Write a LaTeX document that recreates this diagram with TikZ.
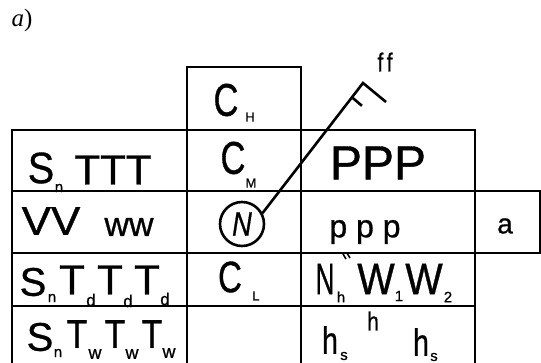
\documentclass[tikz,border=0pt]{standalone}
\usepackage{fontspec}
\newfontfamily\hand[FakeBold=0.8, Ligatures=NoCommon]{Liberation Sans}
\newfontfamily\capfont{Liberation Serif}
\newcommand\fsz[1]{\fontsize{#1}{#1}\selectfont}
\tikzset{
  rule/.style={line width=2.6pt, line join=miter},
  glyph/.style={inner sep=0pt, outer sep=0pt, font=\hand},
  subs/.style={inner sep=0pt, outer sep=0pt, font=\hand\fsz{15}},
}
\begin{document}
\begin{tikzpicture}[x=1pt,y=-1pt]
\useasboundingbox (0,0) rectangle (541,363);

% caption
\node[inner sep=0pt, font=\capfont\fsz{25}] (cap) at (22,20) {\itshape a\upshape)};

% frame of the station model
\draw[rule] (187,363) -- (187,67) -- (301,67) -- (301,363);
\draw[rule] (12,363) -- (12,130) -- (475,130) -- (475,363);
\draw[rule] (12,191) -- (540,191) -- (540,253);
\draw[rule] (12,253) -- (541,253);
\draw[rule] (12,306) -- (476,306);

% cloud cover with wind shaft and barbs
\node[draw, circle, rule, minimum size=44pt, inner sep=0pt, font=\hand\fsz{34}] (N) at (242,224) {\scalebox{0.8}[1]{\itshape N}};
\coordinate (peak) at (363,83);
\coordinate (barb) at (386,102);
\draw[rule] (N.28) -- (peak) -- (barb);
\path (peak) -- (N.28) coordinate[pos=0.11] (hs);
\draw[rule] (hs) -- ++(10,8.5) coordinate (he);
\node[glyph, font=\hand\fsz{26}] (ff) at (385,62) {\scalebox{0.8}[1]{f\,f}};

% top box
\node[glyph, font=\hand\fsz{46}] (ch) at (226,100) {\scalebox{0.75}[1]{C}};
\node[subs, font=\hand\fsz{13}] (chs) at (250,117) {H};

% row 1
\node[glyph, font=\hand\fsz{44}] (s1) at (41,168) {\scalebox{0.9}[1]{S}};
\node[subs] (s1n) at (59,188) {n};
\node[glyph, font=\hand\fsz{42}] (ttt) at (113,170) {TTT};
\node[glyph, font=\hand\fsz{46}] (cm) at (233,158) {\scalebox{0.75}[1]{C}};
\node[subs, font=\hand\fsz{13}] (cms) at (251,183) {M};
\node[glyph, font=\hand\fsz{48}] (pp1) at (378,163) {PPP};

% row 2
\node[glyph, font=\hand\fsz{40}] (vv) at (51,221) {\scalebox{1.1}[1]{VV}};
\node[glyph, font=\hand\fsz{34}] (ww) at (129,227) {ww};
\node[glyph, font=\hand\fsz{32}] (pp2) at (365,232) {p p p};
\node[glyph, font=\hand\fsz{28}] (a) at (505,226) {a};

% row 3
\node[glyph, font=\hand\fsz{40}] (s3) at (33,282) {S};
\node[subs] (s3n) at (52,298) {n};
\node[glyph, font=\hand\fsz{42}] (td1) at (72,280) {T};
\node[subs, font=\hand\fsz{17}] (td1s) at (91,300) {d};
\node[glyph, font=\hand\fsz{42}] (td2) at (110,280) {T};
\node[subs, font=\hand\fsz{17}] (td2s) at (128,301) {d};
\node[glyph, font=\hand\fsz{42}] (td3) at (147,280) {T};
\node[subs, font=\hand\fsz{17}] (td3s) at (165,299) {d};
\node[glyph, font=\hand\fsz{44}] (cl) at (230,277) {\scalebox{0.75}[1]{C}};
\node[subs, font=\hand\fsz{13}] (cls) at (256,296) {L};
\node[glyph, font=\hand\fsz{44}] (nh) at (325,279) {\scalebox{0.6}[1]{N}};
\node[subs] (nhs) at (341,297) {h};
\draw[line width=1.6pt] (343,254) -- (346,259) (347,253) -- (350,258);
\node[glyph, font=\hand\fsz{44}] (w1) at (376,279) {\scalebox{0.9}[1]{W}};
\node[subs] (w1s) at (399,296) {1};
\node[glyph, font=\hand\fsz{44}] (w2) at (424,279) {\scalebox{0.9}[1]{W}};
\node[subs] (w2s) at (448,297) {2};

% row 4
\node[glyph, font=\hand\fsz{40}] (s4) at (40,337) {S};
\node[subs] (s4n) at (58,353) {n};
\node[glyph, font=\hand\fsz{40}] (tw1) at (77,334) {\scalebox{0.85}[1]{T}};
\node[subs, font=\hand\fsz{18}] (tw1s) at (95,354) {w};
\node[glyph, font=\hand\fsz{40}] (tw2) at (115,334) {\scalebox{0.85}[1]{T}};
\node[subs, font=\hand\fsz{18}] (tw2s) at (132,354) {w};
\node[glyph, font=\hand\fsz{40}] (tw3) at (152,334) {\scalebox{0.85}[1]{T}};
\node[subs, font=\hand\fsz{18}] (tw3s) at (169,353) {w};
\node[glyph, font=\hand\fsz{38}] (hs1) at (330,340) {\scalebox{0.75}[1]{h}};
\node[subs] (hs1s) at (344,356) {s};
\node[glyph, font=\hand\fsz{26}] (hmid) at (373,321) {\scalebox{0.8}[1]{h}};
\node[glyph, font=\hand\fsz{38}] (hs2) at (421,342) {\scalebox{0.75}[1]{h}};
\node[subs] (hs2s) at (434,357) {s};
\end{tikzpicture}
\end{document}
